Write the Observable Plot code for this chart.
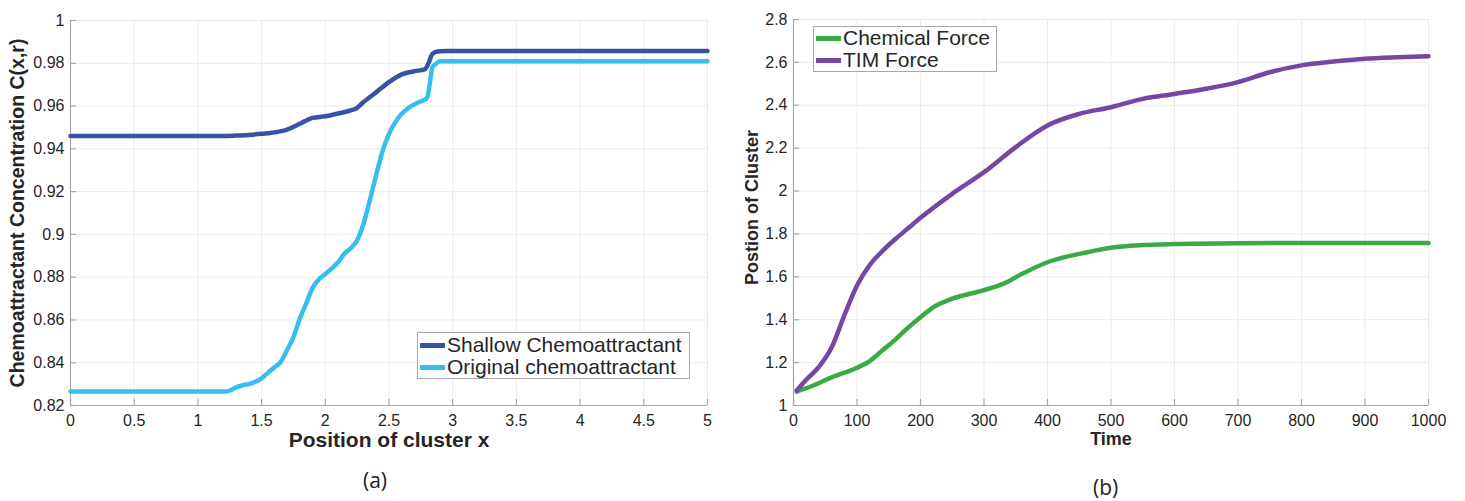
<!DOCTYPE html>
<html>
<head>
<meta charset="utf-8">
<script src="https://cdn.jsdelivr.net/npm/d3@7"></script>
<script src="https://cdn.jsdelivr.net/npm/@observablehq/plot@0.6"></script>
<style>
  html, body { margin: 0; padding: 0; background: #fff; }
  #wrap { position: relative; width: 1465px; height: 501px; overflow: hidden; background: #fff; }
  .panel { position: absolute; top: 0; }
  .legend { position: absolute; background: #fff; border: 1px solid #a8a8a8; box-sizing: border-box;
            font-family: "Liberation Sans", Arial, sans-serif; font-size: 21px; color: #262626; }
  .legend .row { position: absolute; left: 2px; height: 22px; line-height: 22px; white-space: nowrap; }
  .legend .sw { display: inline-block; width: 25px; height: 4.5px; vertical-align: middle; margin-right: 2px; position: relative; top: -1px; }
  .sub { position: absolute; font-family: "Open Sans", sans-serif; font-size: 21px; line-height: 21px; color: #222; }
</style>
</head>
<body>
<div id="wrap"></div>
<script>
// ---------- Panel (a) data ----------
const xTicksA = [0, 0.5, 1, 1.5, 2, 2.5, 3, 3.5, 4, 4.5, 5];
const yTicksA = [0.82, 0.84, 0.86, 0.88, 0.9, 0.92, 0.94, 0.96, 0.98, 1];
const seriesA = ["Shallow Chemoattractant", "Original chemoattractant"];
const colorsA = ["#3953a4", "#36bfec"];

const shallowX = [0, 1.0, 1.2, 1.3, 1.4, 1.5, 1.6, 1.7, 1.8, 1.9, 2.0, 2.1, 2.2, 2.25, 2.3, 2.35, 2.4, 2.5, 2.6, 2.7, 2.78, 2.81, 2.84, 2.88, 2.95, 5.0];
const shallowY = [0.946, 0.946, 0.946, 0.9462, 0.9465, 0.947, 0.9477, 0.949, 0.9517, 0.9545, 0.9552, 0.9565, 0.958, 0.9592, 0.9619, 0.9642, 0.9665, 0.9712, 0.9748, 0.9763, 0.9771, 0.980, 0.9843, 0.9855, 0.9857, 0.9857];

const originalX = [0, 1.0, 1.22, 1.25, 1.3, 1.35, 1.4, 1.45, 1.5, 1.55, 1.6, 1.65, 1.7, 1.75, 1.8, 1.85, 1.9, 1.95, 2.0, 2.05, 2.1, 2.15, 2.2, 2.25, 2.3, 2.35, 2.4, 2.45, 2.5, 2.55, 2.6, 2.65, 2.7, 2.75, 2.8, 2.82, 2.84, 2.87, 2.9, 5.0];
const originalY = [0.8265, 0.8265, 0.8265, 0.8269, 0.8285, 0.8294, 0.830, 0.8311, 0.8327, 0.8353, 0.8378, 0.8404, 0.8459, 0.852, 0.8607, 0.8677, 0.875, 0.879, 0.8815, 0.884, 0.887, 0.891, 0.8935, 0.8973, 0.905, 0.916, 0.928, 0.939, 0.947, 0.9525, 0.9564, 0.959, 0.9608, 0.9622, 0.9639, 0.9704, 0.978, 0.9798, 0.981, 0.981];

// ---------- Panel (b) data ----------
const xTicksB = [0, 100, 200, 300, 400, 500, 600, 700, 800, 900, 1000];
const yTicksB = [1, 1.2, 1.4, 1.6, 1.8, 2, 2.2, 2.4, 2.6, 2.8];
const seriesB = ["Chemical Force", "TIM Force"];
const colorsB = ["#3aaa44", "#7448a1"];

const chemT = [5, 30, 60, 100, 120, 140, 160, 180, 200, 220, 250, 300, 330, 360, 400, 450, 500, 550, 600, 700, 800, 900, 1000];
const chemY = [1.065, 1.092, 1.131, 1.176, 1.207, 1.257, 1.306, 1.362, 1.412, 1.458, 1.498, 1.538, 1.567, 1.614, 1.668, 1.707, 1.736, 1.748, 1.753, 1.757, 1.758, 1.758, 1.758];

const timT = [5, 20, 40, 60, 80, 100, 120, 140, 160, 180, 200, 250, 300, 350, 400, 450, 500, 550, 600, 650, 700, 750, 800, 850, 900, 950, 1000];
const timY = [1.07, 1.12, 1.18, 1.27, 1.42, 1.56, 1.655, 1.72, 1.775, 1.825, 1.875, 1.987, 2.088, 2.205, 2.306, 2.36, 2.391, 2.43, 2.453, 2.477, 2.508, 2.554, 2.586, 2.604, 2.617, 2.624, 2.629];

const labelsA = {x: "Position of cluster x", y: "Chemoattractant Concentration C(x,r)", sub: "(a)"};
const labelsB = {x: "Time", y: "Postion of Cluster", sub: "(b)"};

// ---------- helpers ----------
const pts = (xs, ys) => xs.map((x, i) => ({x, y: ys[i]}));
const font = "'Liberation Sans', Arial, Helvetica, sans-serif";
const gridColor = "#ebebeb";
const axisColor = "#a8a8a8";

function panel(cfg) {
  const plotW = cfg.width - cfg.ml - cfg.mr;
  const plotH = cfg.height - cfg.mt - cfg.mb;
  return Plot.plot({
    width: cfg.width, height: cfg.height,
    marginLeft: cfg.ml, marginRight: cfg.mr, marginTop: cfg.mt, marginBottom: cfg.mb,
    style: {fontFamily: font, fontSize: "16px", color: "#262626", background: "white", overflow: "visible"},
    x: {domain: cfg.xDomain, ticks: cfg.xTicks, tickFormat: d => String(d), tickSize: 0, tickPadding: 9, label: null},
    y: {domain: cfg.yDomain, ticks: cfg.yTicks, tickFormat: d => String(d), tickSize: 0, tickPadding: 6, label: null},
    marks: [
      Plot.ruleX(cfg.xTicks, {x: d => d, stroke: gridColor, strokeWidth: 1}),
      Plot.ruleY(cfg.yTicks, {y: d => d, stroke: gridColor, strokeWidth: 1}),
      Plot.ruleY([cfg.yDomain[0]], {stroke: axisColor, strokeWidth: 1.2}),
      Plot.ruleX([cfg.xDomain[0]], {stroke: axisColor, strokeWidth: 1.2}),
      Plot.tickX(cfg.xTicks, {x: d => d, insetTop: plotH - 6, stroke: axisColor, strokeWidth: 1.2}),
      Plot.tickY(cfg.yTicks, {y: d => d, insetRight: plotW - 6, stroke: axisColor, strokeWidth: 1.2}),
      ...cfg.lines.map((l, i) => Plot.line(l, {x: "x", y: "y", stroke: cfg.colors[i], strokeWidth: 4.5, curve: "monotone-x", strokeLinejoin: "round"})),
      Plot.text([cfg.labels.x], {frameAnchor: "bottom", textAnchor: "middle", lineAnchor: "middle", dy: cfg.xLabelDy, fontWeight: "bold", fontSize: cfg.xLabelSize, fill: "#262626"}),
      Plot.text([cfg.labels.y], {frameAnchor: "left", textAnchor: "middle", lineAnchor: "middle", dx: cfg.yLabelDx, dy: cfg.yLabelDy, rotate: -90, fontWeight: "bold", fontSize: cfg.yLabelSize, fill: "#262626"})
    ]
  });
}

const wrap = document.getElementById("wrap");

const pa = panel({
  width: 730, height: 460, ml: 70, mr: 23, mt: 20, mb: 55,
  xDomain: [0, 5], yDomain: [0.82, 1], xTicks: xTicksA, yTicks: yTicksA,
  lines: [pts(shallowX, shallowY), pts(originalX, originalY)], colors: colorsA,
  labels: labelsA, xLabelSize: 21, xLabelDy: 35, yLabelSize: 19.5, yLabelDx: -53, yLabelDy: 0
});
pa.classList.add("panel"); pa.style.left = "0px";
wrap.appendChild(pa);

const pb = panel({
  width: 735, height: 460, ml: 63, mr: 37, mt: 19, mb: 55,
  xDomain: [0, 1000], yDomain: [1, 2.8], xTicks: xTicksB, yTicks: yTicksB,
  lines: [pts(chemT, chemY), pts(timT, timY)], colors: colorsB,
  labels: labelsB, xLabelSize: 18, xLabelDy: 33.5, yLabelSize: 18, yLabelDx: -41, yLabelDy: -5
});
pb.classList.add("panel"); pb.style.left = "730px";
wrap.appendChild(pb);

// ---------- legends ----------
function legend(names, colors, left, top, w, h, rowTops) {
  const d = document.createElement("div");
  d.className = "legend";
  Object.assign(d.style, {left: left + "px", top: top + "px", width: w + "px", height: h + "px"});
  names.forEach((n, i) => {
    const r = document.createElement("div");
    r.className = "row";
    r.style.top = rowTops[i] + "px";
    const sw = document.createElement("span");
    sw.className = "sw";
    sw.style.background = colors[i];
    r.appendChild(sw);
    r.appendChild(document.createTextNode(n));
    d.appendChild(r);
  });
  wrap.appendChild(d);
}
legend(seriesA, colorsA, 417, 332, 273, 47, [1, 23]);
legend(seriesB, colorsB, 813, 26, 184, 46, [0, 22]);

// ---------- sub labels ----------
function sub(t, left, top) {
  const d = document.createElement("div");
  d.className = "sub";
  d.textContent = t;
  Object.assign(d.style, {left: left + "px", top: top + "px"});
  wrap.appendChild(d);
}
sub(labelsA.sub, 363, 470);
sub(labelsB.sub, 1093, 477);
</script>
</body>
</html>
